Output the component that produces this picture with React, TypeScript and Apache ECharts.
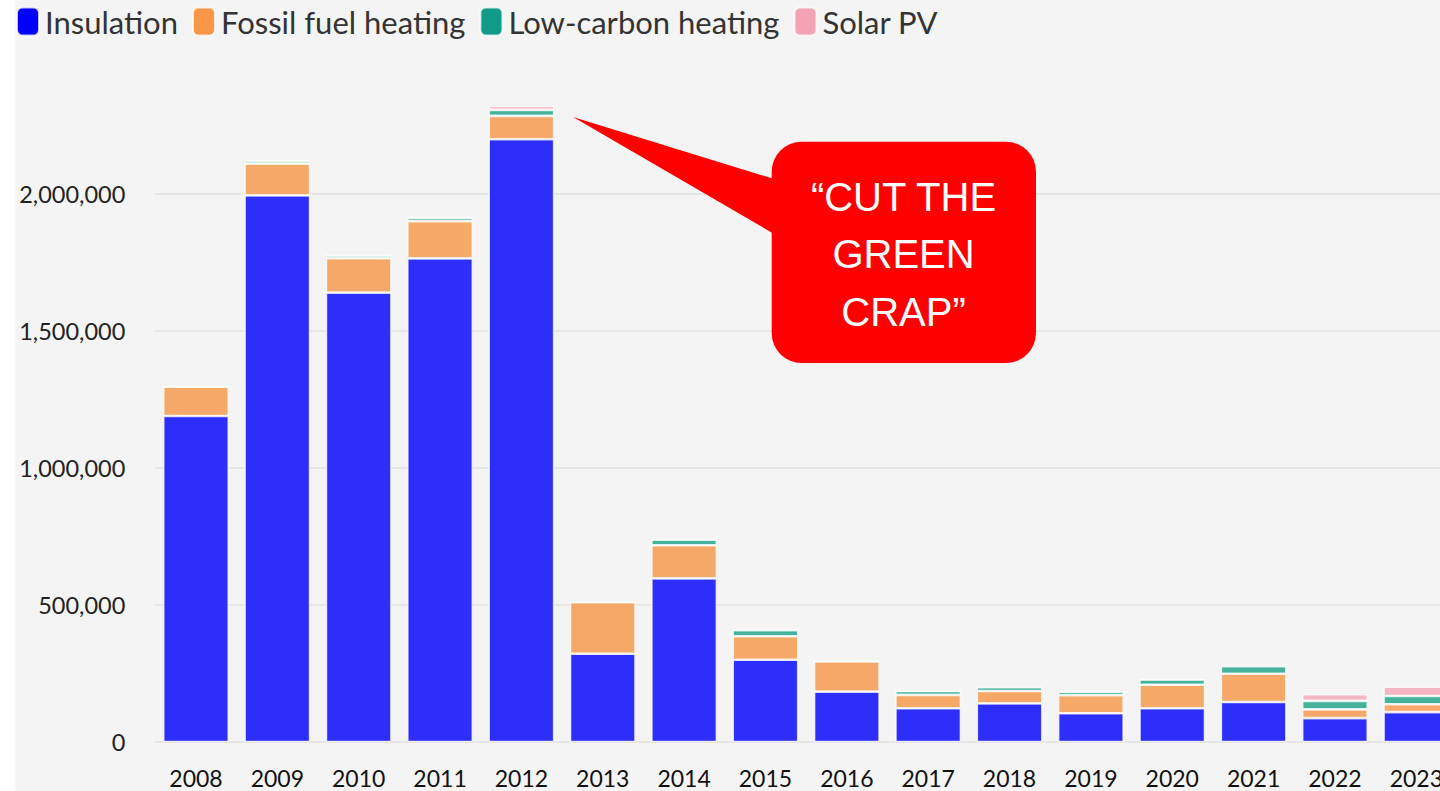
import React, { useEffect, useRef } from "react";
import * as echarts from "echarts";

const years = ["2008", "2009", "2010", "2011", "2012", "2013", "2014", "2015", "2016", "2017", "2018", "2019", "2020", "2021", "2022", "2023"];
const insulation = [1190000, 1995000, 1640000, 1765000, 2200000, 322000, 597000, 300000, 184000, 123000, 141000, 105000, 123000, 146000, 87000, 109000];
const fossilFuel = [107000, 116000, 126000, 136000, 85000, 188000, 121000, 86000, 110000, 49000, 45000, 66000, 86000, 103000, 32000, 29000];
const lowCarbon = [0, 10000, 9000, 12000, 22000, 0, 20000, 22000, 0, 14000, 14000, 13000, 19000, 28000, 31000, 30000];
const solarPV = [0, 4000, 3000, 3000, 14000, 0, 4000, 5000, 0, 0, 0, 0, 0, 8000, 24000, 34000];

const seriesNames = ["Insulation", "Fossil fuel heating", "Low-carbon heating", "Solar PV"];
const barColors = ["#2e2efa", "#f5a867", "#45b39b", "#f4b6c2"];
const legendColors = ["#0000ff", "#f79646", "#129a88", "#f4a3b5"];
const calloutText = "\u201CCUT THE\nGREEN\nCRAP\u201D";

export default function App() {
  const ref = useRef<HTMLDivElement>(null);
  useEffect(() => {
    if (!ref.current) return;
    const chart = echarts.init(ref.current, null, { renderer: "svg" });
    const datasets = [insulation, fossilFuel, lowCarbon, solarPV];
    chart.setOption({
      animation: false,
      backgroundColor: "#f4f4f4",
      legend: {
        left: 11,
        top: 1,
        itemWidth: 22,
        itemHeight: 28,
        itemGap: 14,
        icon: "roundRect",
        textStyle: { fontFamily: "Lato", fontSize: 31, color: "#333", padding: [0, 0, 0, 1] },
        data: seriesNames.map((n, i) => ({ name: n, itemStyle: { color: legendColors[i] } })),
      },
      grid: { left: 155.3, right: 0, top: 84.4, bottom: 49 },
      xAxis: {
        type: "category",
        data: years,
        axisLine: { show: false },
        axisTick: { show: false },
        axisLabel: { fontFamily: "Lato", fontSize: 23, color: "#111", margin: 24 },
      },
      yAxis: {
        type: "value",
        min: 0,
        max: 2400000,
        interval: 500000,
        axisLine: { show: false },
        axisTick: { show: false },
        splitLine: { show: true, showMaxLine: false, lineStyle: { color: "#e6e6e6", width: 2 } },
        axisLabel: {
          showMaxLabel: false,
          fontFamily: "Lato",
          fontSize: 23.5,
          color: "#222",
          margin: 30,
          formatter: (v: number) => v.toLocaleString("en-US"),
        },
      },
      series: datasets.map((d, i) => ({
        name: seriesNames[i],
        type: "bar",
        stack: "total",
        data: d,
        barWidth: 65.5,
        itemStyle: { color: barColors[i], borderColor: "rgba(255,255,255,0.75)", borderWidth: 1.3 },
      })),
      graphic: [
        { type: "rect", left: 0, top: 0, shape: { x: 0, y: 0, width: 15, height: 791 }, style: { fill: "#ffffff" }, z: 0 },
        {
          type: "polygon",
          shape: { points: [[573, 117], [800, 187], [800, 249]] },
          style: { fill: "#ff0000" },
          z: 100,
        },
        {
          type: "rect",
          shape: { x: 771.7, y: 141.7, width: 264.3, height: 221.3, r: 30 },
          style: { fill: "#ff0000" },
          z: 100,
        },
        {
          type: "text",
          x: 903.5,
          y: 254,
          style: {
            text: calloutText,
            fill: "#ffffff",
            fontSize: 40,
            fontFamily: "Liberation Sans",
            lineHeight: 57.5,
            align: "center",
            verticalAlign: "middle",
          },
          z: 101,
        },
      ],
    });
    return () => chart.dispose();
  }, []);
  return (
    <div style={{ position: "fixed", left: 0, top: 0, width: 1440, height: 791, overflow: "hidden" }}>
      <div ref={ref} style={{ width: 1457, height: 791 }} />
    </div>
  );
}
